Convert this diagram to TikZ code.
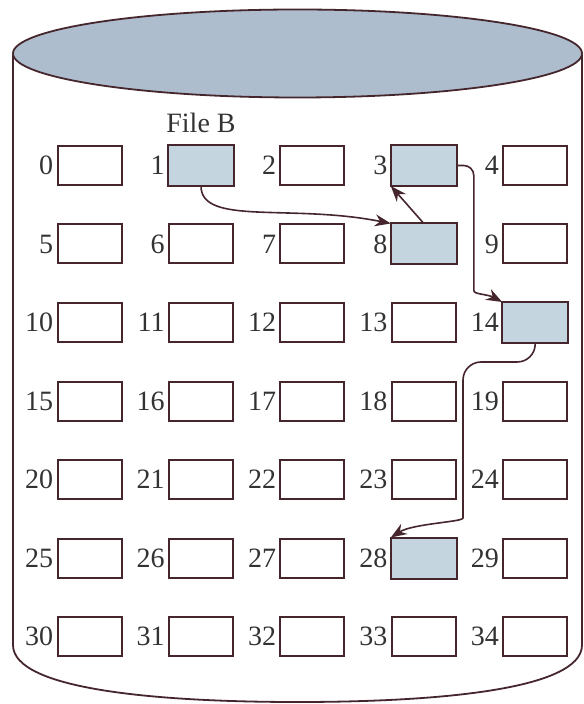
\documentclass[tikz,border=0pt]{standalone}
\usepackage{fontspec}
\setmainfont{Liberation Serif}
\usetikzlibrary{arrows.meta}
\definecolor{edgecol}{HTML}{45262D}
\definecolor{diskcol}{HTML}{AEBDCD}
\definecolor{usedcol}{HTML}{C5D5E0}
\tikzset{
  block/.style={draw=edgecol, line width=1pt, fill=white,
    minimum width=32pt, minimum height=19.5pt, inner sep=0pt},
  link/.style={draw=edgecol, line width=0.8pt, -{Stealth[length=8pt,width=6pt]}},
}
\begin{document}
\begin{tikzpicture}[x=0.5pt, y=-0.5pt, font=\fontsize{14}{16}\selectfont, text=black!80]
  \useasboundingbox (0,0) rectangle (583,704);
  % disk
  \draw[edgecol, line width=0.9pt] (13,55) -- (13,645)
    .. controls (13,690) and (160,702) .. (297.5,702)
    .. controls (435,702) and (582,690) .. (582,645) -- (582,55);
  \draw[edgecol, line width=0.9pt, fill=diskcol]
    (297.5,53.5) ellipse [x radius=142.25pt, y radius=22pt];
  % blocks 0..34
  \foreach \r in {0,...,6}
    \foreach \c in {0,...,4} {
      \pgfmathtruncatemacro\k{5*\r+\c}
      \node[block, label={[inner sep=0pt, label distance=1.5pt]left:\k}]
        (n\k) at ({89.6+111.4*\c},{165.5+78.5*\r}) {};
    }
  % blocks of file B
  \foreach \k in {1,3,8,14,28}
    \draw[edgecol, line width=1pt, fill=usedcol] (n\k.north west) rectangle (n\k.south east);
  \node[anchor=south] (fileB) at ([yshift=2.5pt]n1.north) {File B};
  % chain
  \draw[link] (n1.south) .. controls +(0,40) and +(-100,-20) .. (n8.north west);
  \draw[link] (n8.north) -- (n3.south west);
  \draw[link, rounded corners=5pt] (n3.east) -| ++(17,115)
    .. controls +(0,14) and +(-15,-8) .. (n14.north west);
  \draw[link, rounded corners=9pt] (n14.south) |- (463,362) -- (463,500)
    .. controls +(0,22) and +(22,-14) .. (n28.north west);
\end{tikzpicture}
\end{document}
